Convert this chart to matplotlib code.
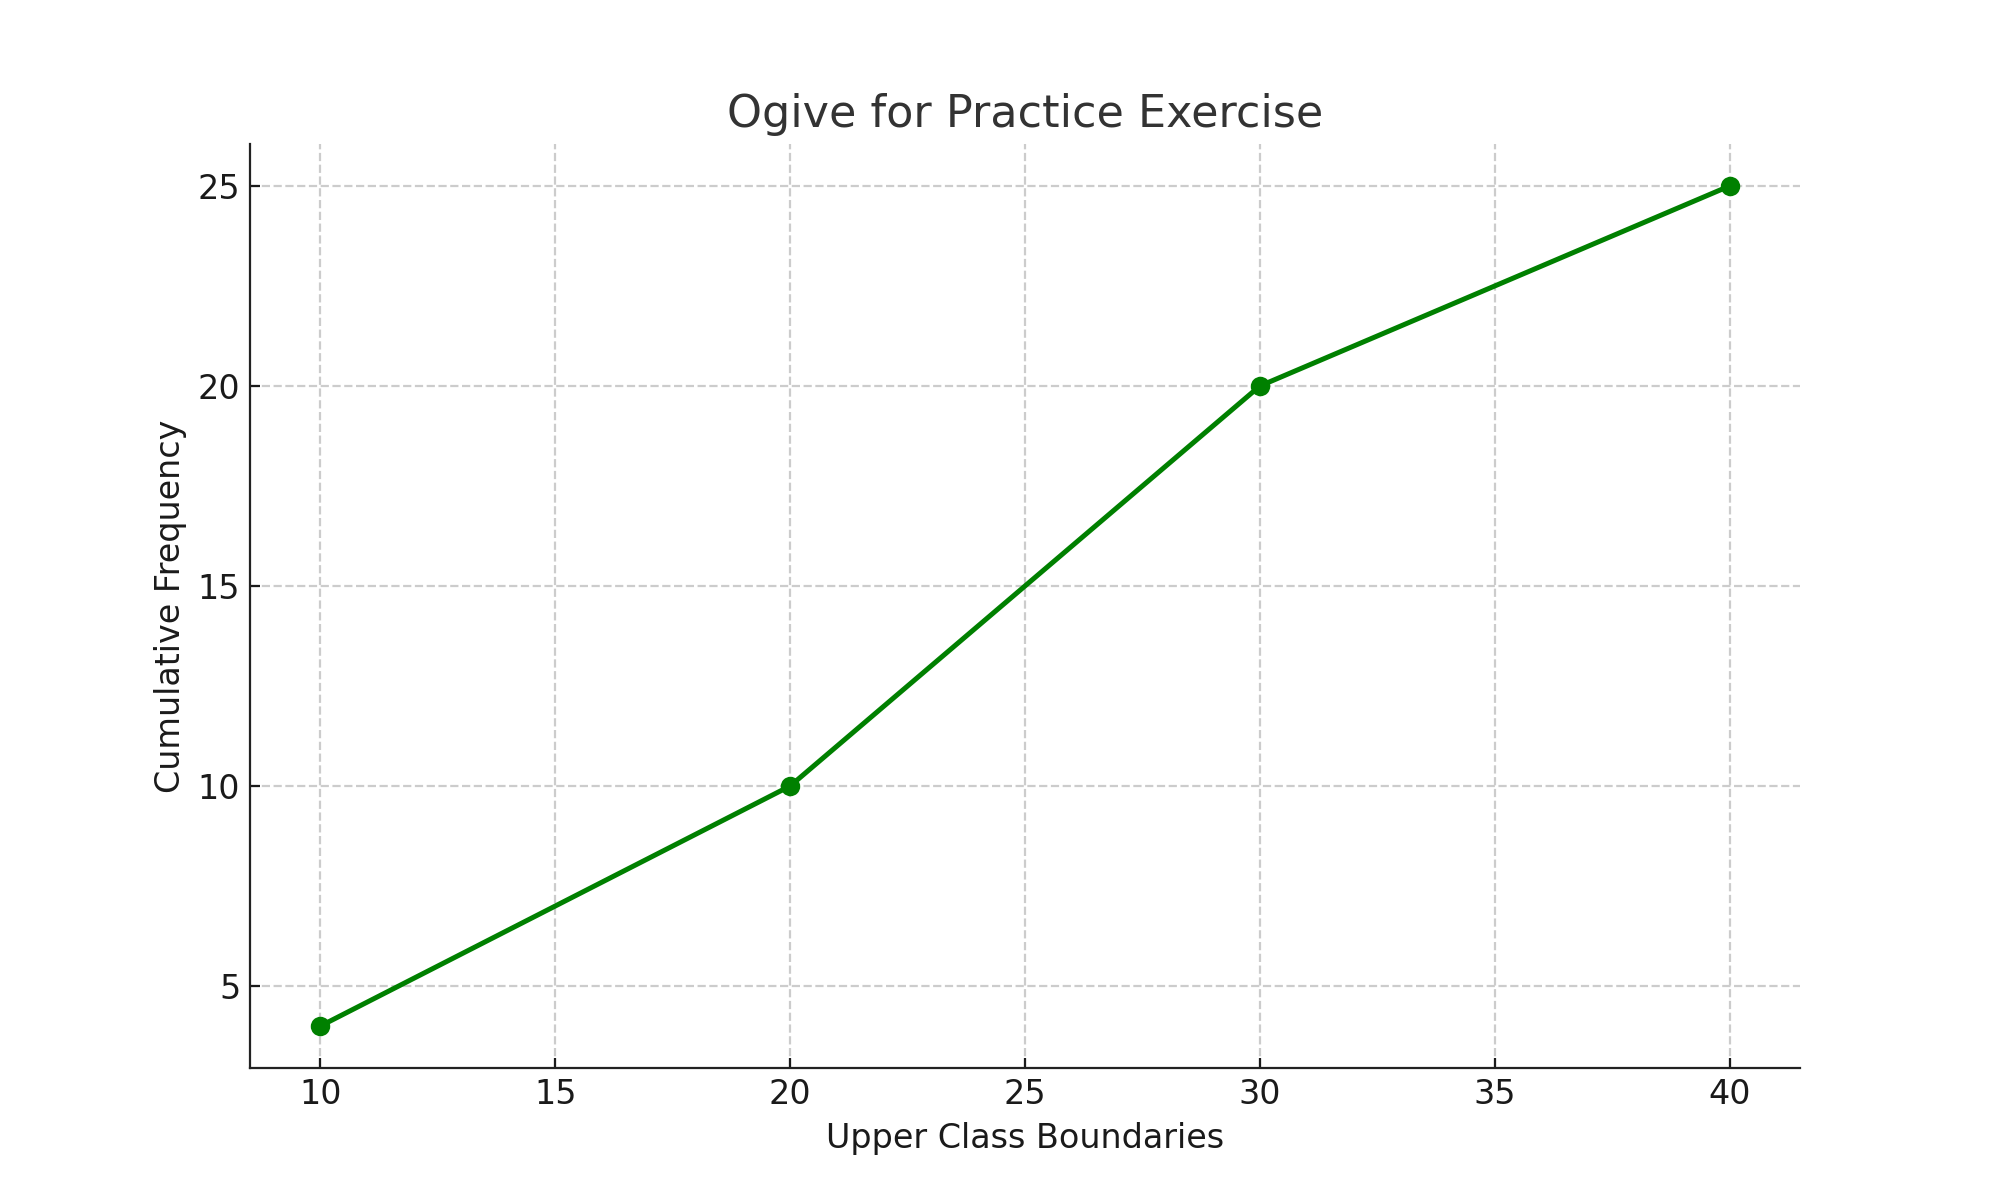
import matplotlib
matplotlib.use('Agg')
import matplotlib.pyplot as plt

upper_bounds = [10, 20, 30, 40]
cum_freq = [4, 10, 20, 25]

fig, ax = plt.subplots(figsize=(10, 6), dpi=200)
ax.plot(upper_bounds, cum_freq, marker='o', color='green', linewidth=1.8, markersize=6)
ax.set_title('Ogive for Practice Exercise', fontsize=16, color='#333333')
ax.set_xlabel('Upper Class Boundaries', fontsize=12, color='#1a1a1a')
ax.set_ylabel('Cumulative Frequency', fontsize=12, color='#1a1a1a')
ax.tick_params(labelsize=12, colors='#1a1a1a', direction='in', length=3.5)
ax.grid(True, linestyle='--', color='#cccccc', linewidth=0.8)
for side in ['left', 'bottom']:
    ax.spines[side].set_color('#222222')
ax.spines['top'].set_visible(False)
ax.spines['right'].set_visible(False)
fig.savefig('out.png')
